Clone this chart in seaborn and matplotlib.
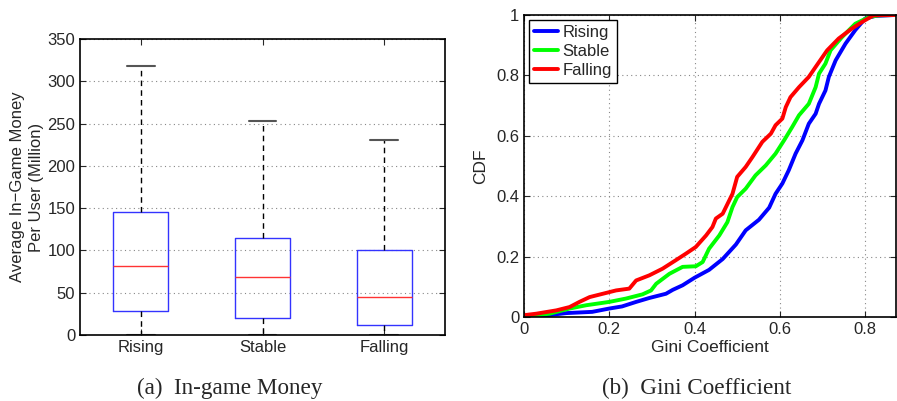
import numpy as np
import pandas as pd
import matplotlib
matplotlib.use("Agg")
import matplotlib.pyplot as plt
import seaborn as sns

# ---------------- data ----------------
groups = ["Rising", "Stable", "Falling"]
whisker_low = [0, 0, 0]
q1 = [28, 20, 12]
median = [82, 69, 45]
q3 = [145, 115, 100]
whisker_high = [318, 253, 231]

yticks_left = [0, 50, 100, 150, 200, 250, 300, 350]

rising_g = [0.0, 0.03, 0.1, 0.16, 0.2, 0.23, 0.263, 0.294, 0.333, 0.349, 0.372, 0.4,
            0.434, 0.466, 0.497, 0.52, 0.551, 0.575, 0.59, 0.606, 0.621, 0.637, 0.653,
            0.668, 0.684, 0.692, 0.707, 0.715, 0.731, 0.754, 0.777, 0.8, 0.824, 0.87]
rising_c = [0.0, 0.002, 0.013, 0.017, 0.028, 0.035, 0.05, 0.063, 0.077, 0.09, 0.105, 0.13,
            0.156, 0.192, 0.24, 0.287, 0.322, 0.362, 0.408, 0.442, 0.486, 0.541, 0.585,
            0.64, 0.673, 0.706, 0.75, 0.795, 0.85, 0.905, 0.95, 0.988, 0.997, 1.0]

stable_g = [0.0, 0.06, 0.107, 0.146, 0.2, 0.239, 0.278, 0.298, 0.31, 0.341, 0.372, 0.403,
            0.419, 0.434, 0.458, 0.477, 0.489, 0.5, 0.52, 0.543, 0.567, 0.59, 0.61, 0.629,
            0.645, 0.668, 0.684, 0.692, 0.707, 0.719, 0.746, 0.777, 0.809, 0.832, 0.87]
stable_c = [0.0, 0.011, 0.028, 0.039, 0.05, 0.061, 0.075, 0.088, 0.11, 0.143, 0.166, 0.168,
            0.182, 0.226, 0.27, 0.314, 0.364, 0.397, 0.425, 0.469, 0.502, 0.541, 0.585, 0.629,
            0.668, 0.706, 0.761, 0.806, 0.839, 0.883, 0.927, 0.971, 0.993, 0.999, 1.0]

falling_g = [0.0, 0.029, 0.076, 0.107, 0.13, 0.154, 0.185, 0.216, 0.247, 0.263, 0.294, 0.325,
             0.356, 0.38, 0.403, 0.427, 0.442, 0.45, 0.466, 0.489, 0.5, 0.52, 0.536, 0.559,
             0.579, 0.59, 0.606, 0.614, 0.625, 0.645, 0.668, 0.684, 0.711, 0.738, 0.769,
             0.793, 0.82, 0.87]
falling_c = [0.006, 0.011, 0.022, 0.033, 0.05, 0.066, 0.077, 0.088, 0.094, 0.121, 0.138, 0.16,
             0.188, 0.21, 0.232, 0.27, 0.298, 0.326, 0.342, 0.408, 0.464, 0.497, 0.53, 0.58,
             0.607, 0.635, 0.657, 0.695, 0.728, 0.761, 0.795, 0.828, 0.883, 0.922, 0.955,
             0.977, 0.999, 1.0]

series_names = ["Rising", "Stable", "Falling"]
series_colors = ["#0000ff", "#00ff00", "#ff0000"]
xticks_right = [0, 0.2, 0.4, 0.6, 0.8]
yticks_right = [0, 0.2, 0.4, 0.6, 0.8, 1]

# ---------------- style ----------------
sns.set_style("ticks")
plt.rcParams["font.family"] = ["Liberation Sans", "DejaVu Sans"]
plt.rcParams["xtick.direction"] = "in"
plt.rcParams["ytick.direction"] = "in"
plt.rcParams["axes.edgecolor"] = "black"
plt.rcParams["axes.linewidth"] = 1.0

fig = plt.figure(figsize=(8.97, 4.01), dpi=100)
ax1 = fig.add_axes([80 / 897, 1 - 335 / 401, 365 / 897, 296 / 401])
ax2 = fig.add_axes([524 / 897, 1 - 317 / 401, 372 / 897, 302 / 401])

# ---------------- left: box plot ----------------
rows = []
for g, lo, a, m, b, hi in zip(groups, whisker_low, q1, median, q3, whisker_high):
    for v in (lo, a, m, b, hi):
        rows.append({"group": g, "value": v})
df_box = pd.DataFrame(rows)

sns.boxplot(data=df_box, x="group", y="value", order=groups, whis=(0, 100),
            width=0.45, fill=False, color="#0000ff", linewidth=1.0, ax=ax1,
            boxprops={"color": "#3333ff", "linewidth": 1.0},
            medianprops={"color": "#ff3333", "linewidth": 1.0},
            whiskerprops={"color": "black", "linestyle": (0, (4, 3)), "linewidth": 1.0},
            capprops={"color": "#555555", "linewidth": 1.5})

ax1.set_xlim(-0.5, 2.5)
ax1.set_ylim(0, 350)
ax1.set_yticks(yticks_left)
ax1.set_xlabel("")
ax1.set_ylabel("Average In\u2212Game Money\nPer User (Million)", fontsize=12,
               linespacing=1.35, labelpad=2)
ax1.yaxis.grid(True, linestyle=(0, (1, 3)), color="#888888", linewidth=0.8)
ax1.set_axisbelow(True)
ax1.tick_params(axis="both", labelsize=12, length=4, top=True, right=True, width=0.8)
for s in ax1.spines.values():
    s.set_visible(True)
    s.set_linewidth(1.2)

# ---------------- right: CDF ----------------
for name, gx, cy, col in zip(series_names, [rising_g, stable_g, falling_g],
                             [rising_c, stable_c, falling_c], series_colors):
    sns.lineplot(x=gx, y=cy, color=col, linewidth=2.8, sort=False,
                 estimator=None, label=name, ax=ax2)

ax2.set_xlim(0, 0.8725)
ax2.set_ylim(0, 1)
ax2.set_xticks(xticks_right)
ax2.set_yticks(yticks_right)
ax2.set_xticklabels([f"{v:g}" for v in xticks_right])
ax2.set_yticklabels([f"{v:g}" for v in yticks_right])
ax2.set_xlabel("Gini Coefficient", fontsize=12.5, labelpad=2)
ax2.set_ylabel("CDF", fontsize=12.5, labelpad=6)
ax2.grid(True, linestyle=(0, (1, 3)), color="#888888", linewidth=0.8)
ax2.set_axisbelow(True)
ax2.tick_params(axis="both", labelsize=12, length=4, top=True, right=True, width=0.8)
for s in ax2.spines.values():
    s.set_visible(True)
    s.set_linewidth(1.2)
leg = ax2.legend(loc="upper left", fontsize=12, frameon=True, fancybox=False,
                 framealpha=1, edgecolor="black", handlelength=1.45,
                 borderaxespad=0.3, borderpad=0.3, labelspacing=0.25, handletextpad=0.25)
leg.get_frame().set_linewidth(1.0)

# ---------------- captions ----------------
fig.text(230 / 897, 1 - 388 / 401, "(a)  In-game Money", ha="center", va="center",
         fontsize=16.7, family=["Liberation Serif", "DejaVu Serif"])
fig.text(697 / 897, 1 - 388 / 401, "(b)  Gini Coefficient", ha="center", va="center",
         fontsize=16.7, family=["Liberation Serif", "DejaVu Serif"])

fig.savefig("out.png", dpi=100)
